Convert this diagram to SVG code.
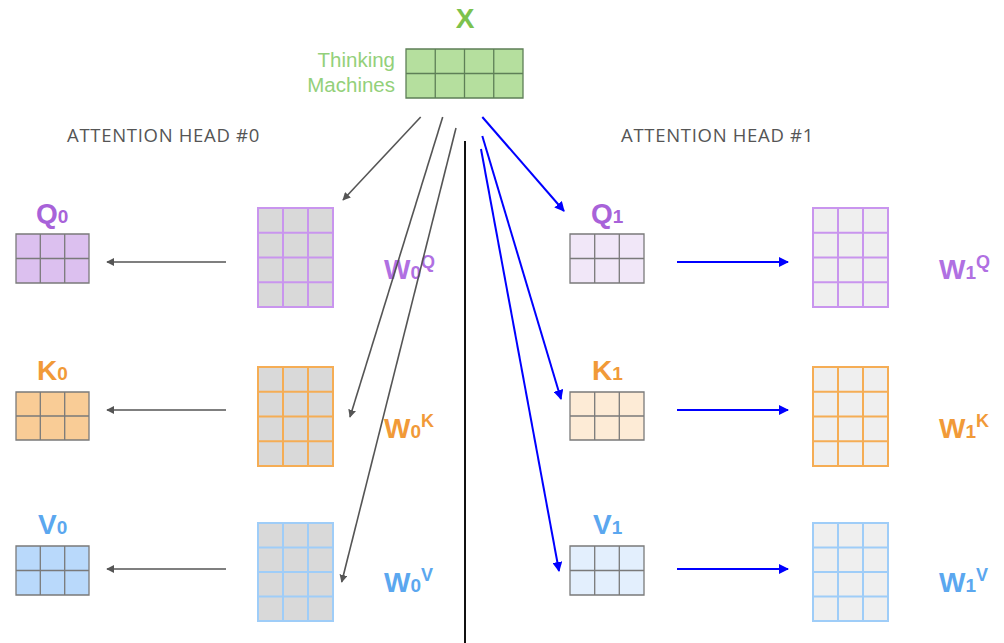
<svg xmlns="http://www.w3.org/2000/svg" width="1004" height="643" viewBox="0 0 1004 643">
<defs>
<marker id="ag" viewBox="0 0 10 10" refX="9" refY="5" markerWidth="8" markerHeight="8" markerUnits="userSpaceOnUse" orient="auto"><path d="M0,0 L10,5 L0,10 z" fill="#555"/></marker>
<marker id="ab" viewBox="0 0 10 10" refX="9" refY="5" markerWidth="10" markerHeight="10" markerUnits="userSpaceOnUse" orient="auto"><path d="M0,0 L10,5 L0,10 z" fill="#0000ff"/></marker>
<style>
.lbl{font-family:"Liberation Sans",Arial,sans-serif;font-weight:bold;font-size:28px}
.sub{font-size:19px}
.sup{font-size:18px}
.head{font-family:"Open Sans","Liberation Sans",sans-serif;font-size:18.5px;letter-spacing:0.7px;fill:#555}
.tm{font-family:"Liberation Sans",Arial,sans-serif;font-size:20.5px;fill:#93d07a}
.grid{fill:none;stroke-width:1.3}
.wgrid{fill:none;stroke-width:2}
.g{stroke:#555;stroke-width:1.6;fill:none;marker-end:url(#ag)}
.b{stroke:#0000ff;stroke-width:2;fill:none;marker-end:url(#ab)}
.p{fill:#a862d9}.o{fill:#f19a38}.bl{fill:#5ba7ef}
</style>
</defs>
<rect width="1004" height="643" fill="#fff"/>

<g id="X">
<text x="465" y="28" text-anchor="middle" class="lbl" style="fill:#7cc24e;font-size:28px">X</text>
<text x="395" y="67" text-anchor="end" class="tm">Thinking</text>
<text x="395" y="92" text-anchor="end" class="tm">Machines</text>
<rect x="406" y="49" width="117" height="49" fill="#b5df9e"/>
<path d="M406,49h117v49h-117z M435.25,49v49 M464.5,49v49 M493.75,49v49 M406,73.5h117" class="grid" stroke="#5e7f57"/>
</g>

<g id="head0"><text x="67" y="142" class="head">ATTENTION HEAD #0</text></g>
<g id="head1"><text x="621" y="142" class="head">ATTENTION HEAD #1</text></g>

<g id="divider"><line x1="465" y1="141" x2="465" y2="643" stroke="#111" stroke-width="2"/></g>

<g id="Q0">
<text x="36" y="223" class="lbl p">Q<tspan class="sub">0</tspan></text>
<rect x="16" y="234" width="73" height="49" fill="#dcc0ef"/>
<path d="M16,234h73v49h-73z M40.3,234v49 M64.7,234v49 M16,258.5h73" class="grid" stroke="#7a7a7a"/>
</g>
<g id="K0">
<text x="37" y="380" class="lbl o">K<tspan class="sub">0</tspan></text>
<rect x="16" y="392" width="73" height="48" fill="#f9cc96"/>
<path d="M16,392h73v48h-73z M40.3,392v48 M64.7,392v48 M16,416h73" class="grid" stroke="#7a7a7a"/>
</g>
<g id="V0">
<text x="38" y="534" class="lbl bl">V<tspan class="sub">0</tspan></text>
<rect x="16" y="546" width="73" height="49" fill="#b9d9fb"/>
<path d="M16,546h73v49h-73z M40.3,546v49 M64.7,546v49 M16,570.5h73" class="grid" stroke="#7a7a7a"/>
</g>

<g id="W0Q">
<rect x="258" y="208" width="75" height="99" fill="#d9d9d9"/>
<path d="M258,208h75v99h-75z M283,208v99 M308,208v99 M258,232.75h75 M258,257.5h75 M258,282.25h75" class="wgrid" stroke="#c995ee"/>
<text x="384" y="279" class="lbl p" style="fill:#b070e2">W<tspan class="sub">0</tspan><tspan class="sup" dy="-11">Q</tspan></text>
</g>
<g id="W0K">
<rect x="258" y="367" width="75" height="99" fill="#d9d9d9"/>
<path d="M258,367h75v99h-75z M283,367v99 M308,367v99 M258,391.75h75 M258,416.5h75 M258,441.25h75" class="wgrid" stroke="#f5ad55"/>
<text x="384" y="438" class="lbl o">W<tspan class="sub">0</tspan><tspan class="sup" dy="-11">K</tspan></text>
</g>
<g id="W0V">
<rect x="258" y="523" width="75" height="98" fill="#d9d9d9"/>
<path d="M258,523h75v98h-75z M283,523v98 M308,523v98 M258,547.5h75 M258,572h75 M258,596.5h75" class="wgrid" stroke="#9fcdf8"/>
<text x="384" y="592" class="lbl bl">W<tspan class="sub">0</tspan><tspan class="sup" dy="-11">V</tspan></text>
</g>

<g id="Q1">
<text x="591" y="223" class="lbl p">Q<tspan class="sub">1</tspan></text>
<rect x="570" y="234" width="74" height="49" fill="#f1e7f8"/>
<path d="M570,234h74v49h-74z M594.7,234v49 M619.3,234v49 M570,258.5h74" class="grid" stroke="#7a7a7a"/>
</g>
<g id="K1">
<text x="592" y="380" class="lbl o">K<tspan class="sub">1</tspan></text>
<rect x="570" y="392" width="74" height="48" fill="#fdebd6"/>
<path d="M570,392h74v48h-74z M594.7,392v48 M619.3,392v48 M570,416h74" class="grid" stroke="#7a7a7a"/>
</g>
<g id="V1">
<text x="593" y="534" class="lbl bl">V<tspan class="sub">1</tspan></text>
<rect x="570" y="546" width="74" height="49" fill="#e3effd"/>
<path d="M570,546h74v49h-74z M594.7,546v49 M619.3,546v49 M570,570.5h74" class="grid" stroke="#7a7a7a"/>
</g>

<g id="W1Q">
<rect x="813" y="208" width="75" height="99" fill="#efefef"/>
<path d="M813,208h75v99h-75z M838,208v99 M863,208v99 M813,232.75h75 M813,257.5h75 M813,282.25h75" class="wgrid" stroke="#c995ee"/>
<text x="939" y="279" class="lbl p" style="fill:#b070e2">W<tspan class="sub">1</tspan><tspan class="sup" dy="-11">Q</tspan></text>
</g>
<g id="W1K">
<rect x="813" y="367" width="75" height="99" fill="#efefef"/>
<path d="M813,367h75v99h-75z M838,367v99 M863,367v99 M813,391.75h75 M813,416.5h75 M813,441.25h75" class="wgrid" stroke="#f5ad55"/>
<text x="939" y="438" class="lbl o">W<tspan class="sub">1</tspan><tspan class="sup" dy="-11">K</tspan></text>
</g>
<g id="W1V">
<rect x="813" y="523" width="75" height="98" fill="#efefef"/>
<path d="M813,523h75v98h-75z M838,523v98 M863,523v98 M813,547.5h75 M813,572h75 M813,596.5h75" class="wgrid" stroke="#9fcdf8"/>
<text x="939" y="592" class="lbl bl">W<tspan class="sub">1</tspan><tspan class="sup" dy="-11">V</tspan></text>
</g>

<g id="connectors">
<line x1="226" y1="262" x2="107" y2="262" class="g"/>
<line x1="226" y1="410" x2="107" y2="410" class="g"/>
<line x1="226" y1="569" x2="107" y2="569" class="g"/>
<line x1="420.7" y1="117" x2="343" y2="200" class="g"/>
<line x1="442.7" y1="117" x2="350" y2="417" class="g"/>
<line x1="456" y1="128" x2="341.7" y2="582" class="g"/>
<line x1="677" y1="262" x2="788" y2="262" class="b"/>
<line x1="677" y1="410" x2="788" y2="410" class="b"/>
<line x1="677" y1="569" x2="788" y2="569" class="b"/>
<line x1="482.3" y1="117" x2="564" y2="211" class="b"/>
<line x1="482.3" y1="136" x2="561" y2="399" class="b"/>
<line x1="481" y1="149" x2="559" y2="571" class="b"/>
</g>
</svg>
